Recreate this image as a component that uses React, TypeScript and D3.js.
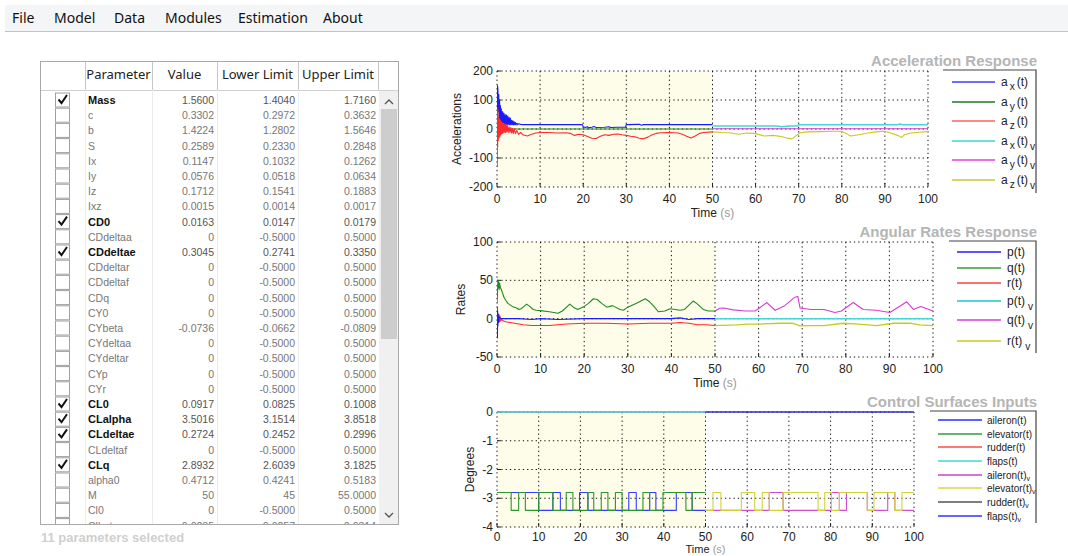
import React from 'react';
import * as d3 from 'd3';

// ---------- Menu ----------
const menuItems = ['File', 'Model', 'Data', 'Modules', 'Estimation', 'About'];

// ---------- Parameter table ----------
const paramNames = ['Mass', 'c', 'b', 'S', 'Ix', 'Iy', 'Iz', 'Ixz', 'CD0', 'CDdeltaa', 'CDdeltae', 'CDdeltar', 'CDdeltaf', 'CDq', 'CY0', 'CYbeta', 'CYdeltaa', 'CYdeltar', 'CYp', 'CYr', 'CL0', 'CLalpha', 'CLdeltae', 'CLdeltaf', 'CLq', 'alpha0', 'M', 'Cl0', 'Clbeta'];
const paramValues = ['1.5600', '0.3302', '1.4224', '0.2589', '0.1147', '0.0576', '0.1712', '0.0015', '0.0163', '0', '0.3045', '0', '0', '0', '0', '-0.0736', '0', '0', '0', '0', '0.0917', '3.5016', '0.2724', '0', '2.8932', '0.4712', '50', '0', '-0.0285'];
const lowerLimits = ['1.4040', '0.2972', '1.2802', '0.2330', '0.1032', '0.0518', '0.1541', '0.0014', '0.0147', '-0.5000', '0.2741', '-0.5000', '-0.5000', '-0.5000', '-0.5000', '-0.0662', '-0.5000', '-0.5000', '-0.5000', '-0.5000', '0.0825', '3.1514', '0.2452', '-0.5000', '2.6039', '0.4241', '45', '-0.5000', '-0.0257'];
const upperLimits = ['1.7160', '0.3632', '1.5646', '0.2848', '0.1262', '0.0634', '0.1883', '0.0017', '0.0179', '0.5000', '0.3350', '0.5000', '0.5000', '0.5000', '0.5000', '-0.0809', '0.5000', '0.5000', '0.5000', '0.5000', '0.1008', '3.8518', '0.2996', '0.5000', '3.1825', '0.5183', '55.0000', '0.5000', '-0.0314'];
const selectedParams = ['Mass', 'CD0', 'CDdeltae', 'CL0', 'CLalpha', 'CLdeltae', 'CLq'];
const selectedCount = 11;
const tableHeaders = ['Parameter', 'Value', 'Lower Limit', 'Upper Limit'];

// ---------- Acceleration response (time s, value) ----------
const accelAx: [number, number][] = [[0, 20], [0.1, 150], [0.2, 140], [0.3, 60], [0.4, 120], [0.5, 30], [0.6, 100], [0.7, 25], [0.8, 80], [0.9, 20], [1.0, 70], [1.1, 18], [1.3, 60], [1.4, 15], [1.6, 55], [1.7, 15], [1.9, 50], [2.0, 15], [2.2, 48], [2.3, 14], [2.5, 45], [2.6, 15], [2.8, 40], [2.9, 15], [3.1, 38], [3.2, 14], [3.4, 30], [3.5, 15], [3.7, 28], [3.8, 14], [4.0, 25], [4.1, 15], [4.3, 22], [4.4, 14], [4.6, 20], [4.8, 15], [5, 18], [5.5, 16], [6, 15], [10, 15], [15, 15], [19.8, 15], [20, 8], [20.5, 5], [21, 8], [21.2, 4], [22, 6], [22.5, 9], [23, 5], [25, 6], [26, 8], [26.3, 5], [28, 6], [29.8, 6], [30, 15], [33, 16], [33.5, 13], [34, 15], [40, 15], [45, 15], [50, 15]];
const accelAy: [number, number][] = [[0, 0], [50, 0]];
const accelAz: [number, number][] = [[0, 0], [0.05, -130], [0.1, 60], [0.15, -60], [0.2, 70], [0.3, -40], [0.4, 40], [0.5, -30], [0.6, 35], [0.7, -25], [0.8, 30], [0.9, -20], [1.0, 25], [1.1, -15], [1.2, 22], [1.35, -15], [1.5, 20], [1.65, -12], [1.8, 18], [1.95, -12], [2.1, 15], [2.25, -10], [2.4, 12], [2.6, -12], [2.8, 8], [3.0, -12], [3.2, 5], [3.4, -14], [3.6, 2], [3.8, -15], [4.0, 0], [4.3, -16], [4.6, -5], [5, -18], [5.5, -12], [6, -20], [7, -24], [8, -18], [9, -14], [10, -12], [12, -12], [14, -14], [16, -13], [17, -15], [18, -22], [19, -18], [20, -20], [21, -26], [22, -32], [23, -33], [24, -25], [25, -20], [26, -22], [27, -18], [28, -17], [29, -20], [30, -22], [31, -25], [32, -27], [33, -32], [34, -34], [35, -28], [36, -20], [37, -15], [38, -13], [40, -12], [42, -14], [43, -18], [44, -25], [45, -31], [46, -24], [47, -15], [48, -12], [50, -10]];
const accelAxV: [number, number][] = [[50, 10], [60, 10], [65, 10], [66, 8], [68, 10], [69.8, 10], [70, 15], [80, 15], [93, 15], [93.5, 17], [94, 15], [100, 15]];
const accelAyV: [number, number][] = [[50, 1], [100, 1]];
const accelAzV: [number, number][] = [[50, -10], [52, -12], [54, -13], [56, -18], [58, -14], [60, -16], [62, -24], [64, -22], [66, -26], [67, -30], [68.4, -34], [69, -28], [70.3, -13], [72, -10], [75, -9], [78, -8], [79.6, -8], [81, -15], [82, -24], [84, -20], [86, -14], [88, -10], [89.6, -8], [91, -12], [93, -22], [93.9, -29], [94.5, -20], [96, -14], [98, -11], [100, -9]];

// ---------- Angular rates response ----------
const rateP: [number, number][] = [[0, 0], [0.05, 15], [0.1, -25], [0.15, 10], [0.2, -10], [0.3, 5], [0.4, -4], [0.5, 2], [1, 0], [5, 0], [8, -1], [10, 0], [14, -1], [20, 0], [30, 0], [40, 0], [42, 1], [44, -1], [46, 0], [50, 0]];
const rateQ: [number, number][] = [[0, 20], [0.1, 30], [0.2, 50], [0.3, 40], [0.4, 48], [0.5, 38], [0.6, 46], [0.8, 40], [1, 38], [1.3, 33], [1.6, 28], [2, 24], [2.5, 20], [3, 18], [3.5, 16], [4, 15], [4.5, 14], [5, 12], [5.5, 13], [6, 15], [6.8, 19], [7.5, 16], [8.3, 12], [9, 11], [10, 10.5], [12, 9], [14, 7], [15, 10], [16.7, 19], [17.5, 15], [18.5, 12], [20, 16], [21, 20], [22.1, 26], [23, 25], [24, 20], [25.2, 15], [26.5, 17], [28.2, 12], [29, 11], [30, 15], [32, 20], [34, 26], [35, 22], [36, 16], [37, 9], [38.5, 10], [39.7, 13], [42, 11], [43, 12], [45, 23], [46, 19], [47.3, 12], [48.5, 10], [50, 10]];
const rateR: [number, number][] = [[0, -10], [0.05, 8], [0.1, -8], [0.15, 7], [0.2, -6], [0.3, 6], [0.4, -5], [0.5, 5], [0.6, -4], [0.7, 3], [0.8, -3], [1, -1], [1.5, -3], [2, -4], [3, -5], [4, -6], [5, -7], [6, -8], [8, -9], [10, -9], [12, -9], [14, -8], [16, -7], [20, -6], [25, -6], [30, -7], [35, -6], [40, -6], [42, -5], [44, -6], [46, -8], [48, -8], [50, -9]];
const ratePV: [number, number][] = [[50, 0], [100, 0]];
const rateQV: [number, number][] = [[50, 10], [51.1, 13.6], [52, 14], [54.2, 11.5], [57, 10], [59.2, 10], [60.2, 14], [61.9, 21], [63.8, 11], [66, 17], [68.3, 28], [69, 29], [69.5, 14], [72, 12], [75, 12], [77.5, 8], [79, 10], [81.7, 21], [84, 12], [87, 11], [90.1, 8], [94, 22], [95.5, 12], [97.2, 16], [100, 10]];
const rateRV: [number, number][] = [[50, -9], [55, -8], [57.4, -7], [60, -7], [65, -6], [67.9, -6], [69.5, -9.3], [72, -9], [75, -9], [79.4, -6], [83, -7], [87, -9], [91, -6], [95, -6], [97, -8], [100, -9]];

// ---------- Control surface inputs (step changes: time, degrees) ----------
const ctrlAileron: [number, number][] = [[0, -2.8], [10, -3.42], [13.4, -2.8], [15.2, -3.42], [19.8, -2.8], [21.8, -3.42], [31.6, -2.8], [33.4, -3.42], [36.6, -2.8], [38.1, -3.42], [43, -2.8], [46.8, -3.42], [50, -3.42]];
const ctrlElevator: [number, number][] = [[0, -2.8], [3.4, -3.42], [5.2, -2.8], [6.8, -3.42], [10, -2.8], [13.4, -3.42], [16.6, -2.8], [18.2, -3.42], [21.8, -2.8], [23.2, -3.42], [25, -2.8], [26.6, -3.42], [28.4, -2.8], [30, -3.42], [35, -2.8], [36.6, -3.42], [39.8, -2.8], [45.3, -3.42], [46.8, -2.8], [50, -2.8]];
const ctrlRudder: [number, number][] = [[0, 0], [50, 0]];
const ctrlFlaps: [number, number][] = [[0, 0], [50, 0]];
const ctrlAileronV: [number, number][] = [[50, -3.42], [53.7, -3.42], [58.6, -3.42], [65.3, -2.8], [68.6, -3.42], [77, -3.42], [80.2, -2.8], [82.1, -3.42], [83.8, -2.8], [88.8, -3.42], [93.7, -2.8], [95.4, -3.42], [100, -3.42]];
const ctrlElevatorV: [number, number][] = [[50, -3.42], [51.8, -2.8], [53.7, -3.42], [58.6, -2.8], [61.8, -3.42], [63.6, -2.8], [65.3, -3.42], [68.6, -2.8], [77, -3.42], [78.6, -2.8], [80.2, -3.42], [82.1, -2.8], [88.8, -3.42], [90.4, -2.8], [95.4, -3.42], [97.1, -2.8], [100, -2.8]];
const ctrlRudderV: [number, number][] = [[50, 0], [100, 0]];
const ctrlFlapsV: [number, number][] = [[50, 0], [100, 0]];

const timeTicks = [0, 10, 20, 30, 40, 50, 60, 70, 80, 90, 100];
const accelTicks = [-200, -100, 0, 100, 200];
const rateTicks = [-50, 0, 50, 100];
const degreeTicks = [-4, -3, -2, -1, 0];

const C = {
  blue: '#1a1aff',
  green: '#1f8a1f',
  red: '#ff2a2a',
  cyan: '#46d6d6',
  magenta: '#d63cd6',
  yellow: '#c9c918',
  gray: '#555555',
};

const PLOT_FONT = 'Arial, "Liberation Sans", Helvetica, sans-serif';
const UI_FONT = '"Segoe UI", "Noto Sans", "Open Sans", sans-serif';

type Series = { data: [number, number][]; color: string; width?: number; step?: boolean };
type LegendItem = { label: React.ReactNode; color: string; width?: number };

type PlotCfg = {
  title: string;
  yLabel: string;
  left: number; right: number; top: number; bottom: number;
  yDomain: [number, number];
  yTicks: number[];
  series: Series[];
  legend: { x0: number; x1: number; y0: number; y1: number; lineX0: number; lineX1: number; textX: number; rowY: number[]; fontSize: number; items: LegendItem[] };
  yLabelX: number;
  tickLabelOffset: number;
  timeLabelY: number;
  timeLabelSize: number;
  titleY: number;
};

function legendA(axis: string, v: boolean) {
  return (
    <>
      <tspan>a</tspan>
      <tspan dx={2} dy={4} fontSize="0.85em">{axis}</tspan>
      <tspan dx={2} dy={-4}>(t)</tspan>
      {v ? <tspan dx={2} dy={5} fontSize="0.85em">v</tspan> : null}
    </>
  );
}

function legendR(n: string, v: boolean) {
  return (
    <>
      <tspan>{n}(t)</tspan>
      {v ? <tspan dx={3} dy={5} fontSize="0.85em">v</tspan> : null}
    </>
  );
}

function legendC(n: string, v: boolean) {
  return (
    <>
      <tspan>{n}(t)</tspan>
      {v ? <tspan dy={2} fontSize="0.7em">v</tspan> : null}
    </>
  );
}

function Plot({ cfg, id }: { cfg: PlotCfg; id: string }) {
  const x = d3.scaleLinear().domain([0, 100]).range([cfg.left, cfg.right]);
  const y = d3.scaleLinear().domain(cfg.yDomain).range([cfg.bottom, cfg.top]);
  const dots = '1.3 3';
  const lg = cfg.legend;
  return (
    <g>
      <defs>
        <clipPath id={`clip-${id}`}>
          <rect x={cfg.left} y={cfg.top - 1} width={cfg.right - cfg.left + 1} height={cfg.bottom - cfg.top + 2} />
        </clipPath>
      </defs>
      {/* identification window shading */}
      <rect x={x(0)} y={cfg.top} width={x(50) - x(0)} height={cfg.bottom - cfg.top} fill="#fdfde9" />
      {/* grid */}
      {timeTicks.map((t) => (
        <line key={`gx${t}`} x1={x(t)} x2={x(t)} y1={cfg.top} y2={cfg.bottom} stroke="#111" strokeWidth={1} strokeDasharray={dots} />
      ))}
      {cfg.yTicks.map((v) => (
        <line key={`gy${v}`} x1={cfg.left} x2={cfg.right} y1={y(v)} y2={y(v)} stroke="#111" strokeWidth={1} strokeDasharray={dots} />
      ))}
      {/* ticks */}
      {timeTicks.map((t) => (
        <line key={`tx${t}`} x1={x(t)} x2={x(t)} y1={cfg.bottom} y2={cfg.bottom - 4} stroke="#222" strokeWidth={1} />
      ))}
      {cfg.yTicks.map((v) => (
        <line key={`ty${v}`} x1={cfg.left} x2={cfg.left + 4} y1={y(v)} y2={y(v)} stroke="#222" strokeWidth={1} />
      ))}
      {/* series */}
      <g clipPath={`url(#clip-${id})`}>
        {cfg.series.map((s, i) => {
          const line = d3.line<[number, number]>()
            .x((d) => x(d[0]))
            .y((d) => y(d[1]))
            .curve(s.step ? d3.curveStepAfter : d3.curveLinear);
          return <path key={i} d={line(s.data) || ''} fill="none" stroke={s.color} strokeWidth={s.width ?? 1.1} strokeLinejoin="round" />;
        })}
      </g>
      {/* tick labels */}
      {timeTicks.map((t) => (
        <text key={`lx${t}`} x={x(t)} y={cfg.bottom + cfg.tickLabelOffset} textAnchor="middle" fontFamily={PLOT_FONT} fontSize={12} fill="#222">{t}</text>
      ))}
      {cfg.yTicks.map((v) => (
        <text key={`ly${v}`} x={cfg.left - 4} y={y(v) + 4} textAnchor="end" fontFamily={PLOT_FONT} fontSize={12} fill="#222">{v}</text>
      ))}
      {/* axis labels */}
      <text x={(x(0) + x(100)) / 2} y={cfg.timeLabelY} textAnchor="middle" fontFamily={PLOT_FONT} fontSize={cfg.timeLabelSize} fill="#222">
        Time <tspan fill="#9a9a9a">(s)</tspan>
      </text>
      <text transform={`translate(${cfg.yLabelX},${(cfg.top + cfg.bottom) / 2}) rotate(-90)`} textAnchor="middle" fontFamily={PLOT_FONT} fontSize={12} fill="#222">{cfg.yLabel}</text>
      {/* title */}
      <text x={1037} y={cfg.titleY} textAnchor="end" fontFamily={PLOT_FONT} fontWeight="bold" fontSize={15} fill="#b5b5b5">{cfg.title}</text>
      {/* legend */}
      <rect x={lg.x0} y={lg.y0} width={lg.x1 - lg.x0} height={lg.y1 - lg.y0} fill="#ffffff" />
      <path d={`M${lg.x0},${lg.y0}H${lg.x1}V${lg.y1}`} fill="none" stroke="#444" strokeWidth={1.2} />
      {lg.items.map((it, i) => (
        <g key={i}>
          <line x1={lg.lineX0} x2={lg.lineX1} y1={lg.rowY[i]} y2={lg.rowY[i]} stroke={it.color} strokeWidth={it.width ?? 1.3} />
          <text x={lg.textX} y={lg.rowY[i] + lg.fontSize * 0.35} fontFamily={PLOT_FONT} fontSize={lg.fontSize} fill="#222">{it.label}</text>
        </g>
      ))}
    </g>
  );
}

const accelCfg: PlotCfg = {
  title: 'Acceleration Response',
  yLabel: 'Accelerations',
  left: 497, right: 928, top: 71, bottom: 187,
  yDomain: [-200, 200],
  yTicks: accelTicks,
  series: [
    { data: accelAy, color: C.green },
    { data: accelAx, color: C.blue },
    { data: accelAz, color: C.red },
    { data: accelAyV, color: C.magenta },
    { data: accelAxV, color: C.cyan, width: 1.5 },
    { data: accelAzV, color: C.yellow },
  ],
  legend: {
    x0: 943, x1: 1036, y0: 70, y1: 193, lineX0: 952, lineX1: 995, textX: 1001, fontSize: 12,
    rowY: [82, 102, 121, 141, 160, 180],
    items: [
      { label: legendA('x', false), color: '#3b3bff' },
      { label: legendA('y', false), color: '#207a20' },
      { label: legendA('z', false), color: '#ff6060' },
      { label: legendA('x', true), color: '#6ee0e0', width: 2.2 },
      { label: legendA('y', true), color: '#e040e0' },
      { label: legendA('z', true), color: '#c8c830' },
    ],
  },
  yLabelX: 461,
  tickLabelOffset: 16,
  timeLabelY: 217,
  timeLabelSize: 12,
  titleY: 66,
};

const rateCfg: PlotCfg = {
  title: 'Angular Rates Response',
  yLabel: 'Rates',
  left: 497, right: 933, top: 242, bottom: 357,
  yDomain: [-50, 100],
  yTicks: rateTicks,
  series: [
    { data: rateQ, color: C.green },
    { data: rateR, color: C.red },
    { data: rateP, color: C.blue },
    { data: rateQV, color: C.magenta },
    { data: ratePV, color: C.cyan, width: 1.5 },
    { data: rateRV, color: C.yellow, width: 1.3 },
  ],
  legend: {
    x0: 949, x1: 1036, y0: 241, y1: 353, lineX0: 957, lineX1: 1001, textX: 1007, fontSize: 12,
    rowY: [252, 268, 283, 301, 320, 341],
    items: [
      { label: legendR('p', false), color: '#1f1fff' },
      { label: legendR('q', false), color: '#3a9a3a' },
      { label: legendR('r', false), color: '#ff7070', width: 2 },
      { label: legendR('p', true), color: '#50d8d8', width: 2 },
      { label: legendR('q', true), color: '#d840d8' },
      { label: legendR('r', true), color: '#c8c820' },
    ],
  },
  yLabelX: 465,
  tickLabelOffset: 16,
  timeLabelY: 387,
  timeLabelSize: 12,
  titleY: 237,
};

const ctrlCfg: PlotCfg = {
  title: 'Control Surfaces Inputs',
  yLabel: 'Degrees',
  left: 497, right: 914, top: 412, bottom: 527,
  yDomain: [-4, 0],
  yTicks: degreeTicks,
  series: [
    { data: ctrlRudder, color: C.red },
    { data: ctrlFlaps, color: C.cyan, width: 1.4 },
    { data: ctrlRudderV, color: C.gray },
    { data: ctrlFlapsV, color: C.blue },
    { data: ctrlAileron, color: '#3a3aff', step: true },
    { data: ctrlElevator, color: '#2e962e', step: true },
    { data: ctrlAileronV, color: '#d050d0', step: true },
    { data: ctrlElevatorV, color: '#d2d23a', step: true },
  ],
  legend: {
    x0: 930, x1: 1036, y0: 411, y1: 523, lineX0: 938, lineX1: 982, textX: 987, fontSize: 10,
    rowY: [420, 434, 447, 461, 475, 488, 502, 516],
    items: [
      { label: legendC('aileron', false), color: '#2b2bff' },
      { label: legendC('elevator', false), color: '#3a9a3a' },
      { label: legendC('rudder', false), color: '#ff4a4a' },
      { label: legendC('flaps', false), color: '#40d8d8' },
      { label: legendC('aileron', true), color: '#cc44cc' },
      { label: legendC('elevator', true), color: '#d8d840' },
      { label: legendC('rudder', true), color: '#555555' },
      { label: legendC('flaps', true), color: '#3333ff' },
    ],
  },
  yLabelX: 474,
  tickLabelOffset: 14,
  timeLabelY: 553,
  timeLabelSize: 11,
  titleY: 407,
};

function ParamTable() {
  const left = 40, right = 398, top = 61, headBottom = 90, bottom = 524;
  const colX = [40, 85, 152, 217, 298, 378];
  const rowH = 15.2;
  const firstCenter = 100;
  const rows = paramNames.map((name, i) => ({
    name,
    value: paramValues[i],
    lower: lowerLimits[i],
    upper: upperLimits[i],
    on: selectedParams.includes(name),
    cy: firstCenter + i * rowH,
  }));
  return (
    <g>
      <defs>
        <clipPath id="table-body">
          <rect x={left} y={headBottom} width={right - left} height={bottom - headBottom} />
        </clipPath>
      </defs>
      <rect x={left} y={top} width={right - left} height={bottom - top} fill="#ffffff" />
      {/* header */}
      {colX.slice(1).map((cx) => (
        <line key={cx} x1={cx + 0.5} x2={cx + 0.5} y1={top} y2={headBottom} stroke="#c8c8c8" />
      ))}
      <line x1={left} x2={right} y1={headBottom + 0.5} y2={headBottom + 0.5} stroke="#d0d0d0" />
      {tableHeaders.map((h, i) => (
        <text key={h} x={(colX[i + 1] + colX[i + 2]) / 2} y={79} textAnchor="middle" fontFamily={UI_FONT} fontSize={13} fill="#222">{h}</text>
      ))}
      {/* body */}
      <g clipPath="url(#table-body)">
        {colX.slice(1, 5).map((cx) => (
          <line key={cx} x1={cx + 0.5} x2={cx + 0.5} y1={headBottom} y2={bottom} stroke="#ececec" />
        ))}
        {rows.map((r) => (
          <g key={r.name}>
            <rect x={55.5} y={r.cy - 7} width={14} height={14} fill="#fff" stroke="#a0a0a0" />
            {r.on ? (
              <path d={`M${58.5},${r.cy - 0.5} L${61.5},${r.cy + 3} L${67},${r.cy - 5}`} fill="none" stroke="#111" strokeWidth={2} />
            ) : null}
            <text x={88} y={r.cy + 4} fontFamily={PLOT_FONT} fontSize={r.on ? 11 : 10.5} fontWeight={r.on ? 'bold' : 'normal'} fill={r.on ? '#111' : '#777'}>{r.name}</text>
            <text x={214} y={r.cy + 4} textAnchor="end" fontFamily={PLOT_FONT} fontSize={10.5} fill={r.on ? '#555' : '#777'}>{r.value}</text>
            <text x={295} y={r.cy + 4} textAnchor="end" fontFamily={PLOT_FONT} fontSize={10.5} fill={r.on ? '#555' : '#777'}>{r.lower}</text>
            <text x={376} y={r.cy + 4} textAnchor="end" fontFamily={PLOT_FONT} fontSize={10.5} fill={r.on ? '#555' : '#777'}>{r.upper}</text>
          </g>
        ))}
      </g>
      {/* scrollbar */}
      <rect x={379} y={headBottom + 1} width={19} height={bottom - headBottom - 1} fill="#f0f0f0" />
      <rect x={381} y={109} width={16} height={230} fill="#cdcdcd" />
      <path d="M385,104 L389,100 L393,104" fill="none" stroke="#555" strokeWidth={1.3} />
      <path d="M385,513 L389,517 L393,513" fill="none" stroke="#555" strokeWidth={1.3} />
      {/* border */}
      <rect x={left + 0.5} y={top + 0.5} width={right - left} height={bottom - top} fill="none" stroke="#a8a8a8" />
      <text x={41} y={542} fontFamily={PLOT_FONT} fontSize={13} fontWeight="bold" fill="#cfcfcf">{`${selectedCount} parameters selected`}</text>
    </g>
  );
}

function MenuBar() {
  const xs = [12, 54, 114, 165, 238, 323];
  return (
    <g>
      <rect x={5} y={5} width={1063} height={26} fill="#f4f5f6" />
      <line x1={5} x2={1068} y1={31.5} y2={31.5} stroke="#c2c2c2" />
      {menuItems.map((m, i) => (
        <text key={m} x={xs[i]} y={23} fontFamily={UI_FONT} fontSize={14} fill="#111">{m}</text>
      ))}
    </g>
  );
}

export default function App() {
  React.useEffect(() => {
    document.body.style.margin = '0';
  }, []);
  return (
    <svg width={1068} height={556} style={{ position: 'absolute', left: 0, top: 0, background: '#fff' }}>
      <rect width={1068} height={556} fill="#ffffff" />
      <MenuBar />
      <ParamTable />
      <Plot cfg={accelCfg} id="acc" />
      <Plot cfg={rateCfg} id="rate" />
      <Plot cfg={ctrlCfg} id="ctrl" />
    </svg>
  );
}
